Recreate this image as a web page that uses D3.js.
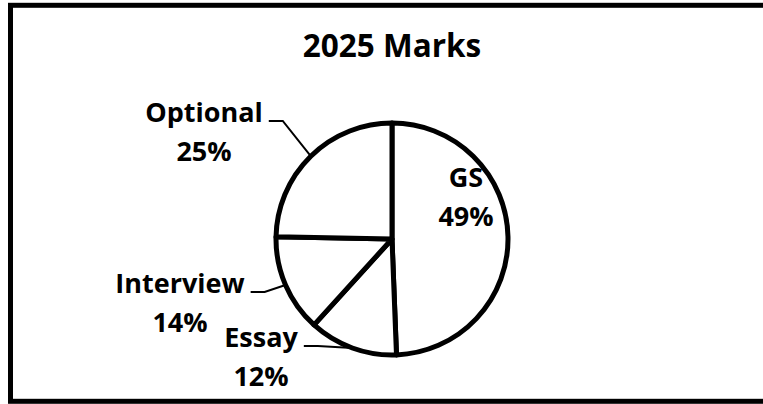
<!DOCTYPE html>
<html>
<head>
<meta charset="utf-8">
<script src="https://cdn.jsdelivr.net/npm/d3@7"></script>
<style>
  html, body { margin: 0; padding: 0; background: #fff; }
  svg { display: block; }
  text { font-family: "Open Sans", "Liberation Sans", sans-serif; font-weight: bold; fill: #000; }
</style>
</head>
<body>
<svg id="svg" width="763" height="404"></svg>
<script>
// 2025 marks split
const categories = ['GS', 'Essay', 'Interview', 'Optional'];
const marks = [1000, 250, 275, 500];
const title = '2025 Marks';

const width = 763, height = 404;
const cx = 392, cy = 239, radius = 116;
const fontSize = 27;

// where each label block sits, relative to pie centre (x = block centre, y = first baseline)
const labelLayout = {
  GS: { dx: 74, dy: -52, leader: false },
  Essay: { dx: -131, dy: 108, leader: true },
  Interview: { dx: -212, dy: 54, leader: true },
  Optional: { dx: -188, dy: -117, leader: true }
};

const svg = d3.select('#svg');

// outer frame (runs off the right edge like the source)
svg.append('rect')
  .attr('x', 10.5).attr('y', 5.3)
  .attr('width', 800).attr('height', 396)
  .attr('fill', 'none').attr('stroke', '#000').attr('stroke-width', 5);

svg.append('text')
  .attr('x', 392).attr('y', 57)
  .attr('text-anchor', 'middle')
  .style('font-size', '31.5px')
  .text(title);

const data = categories.map((c, i) => ({ name: c, value: marks[i] }));
const total = d3.sum(marks);

const pie = d3.pie().sort(null).value((d) => d.value);
const arc = d3.arc().innerRadius(0).outerRadius(radius);
const arcs = pie(data);

const g = svg.append('g').attr('transform', 'translate(' + cx + ',' + cy + ')');

g.selectAll('path.slice').data(arcs).enter().append('path')
  .attr('class', 'slice')
  .attr('d', arc)
  .attr('fill', '#fff')
  .attr('stroke', '#000')
  .attr('stroke-width', 5)
  .attr('stroke-linejoin', 'round');

const lbl = g.selectAll('g.lbl').data(arcs).enter().append('g').attr('class', 'lbl');

lbl.each(function (d) {
  const lay = labelLayout[d.data.name];
  const sel = d3.select(this);
  const pct = Math.round(d.value / total * 100) + '%';

  const t1 = sel.append('text')
    .attr('x', lay.dx).attr('y', lay.dy)
    .attr('text-anchor', 'middle')
    .style('font-size', fontSize + 'px')
    .text(d.data.name);
  sel.append('text')
    .attr('x', lay.dx).attr('y', lay.dy + 39)
    .attr('text-anchor', 'middle')
    .style('font-size', fontSize + 'px')
    .text(pct);

  if (lay.leader) {
    const mid = (d.startAngle + d.endAngle) / 2;
    const px = radius * Math.sin(mid), py = -radius * Math.cos(mid);
    const w = t1.node().getComputedTextLength();
    const x0 = lay.dx + w / 2 + 6, y0 = lay.dy - 1;
    const x1 = x0 + 14;
    sel.append('path')
      .attr('d', 'M' + x0 + ',' + y0 + 'L' + x1 + ',' + y0 + 'L' + px + ',' + py)
      .attr('fill', 'none').attr('stroke', '#000').attr('stroke-width', 2);
  }
});
</script>
</body>
</html>
